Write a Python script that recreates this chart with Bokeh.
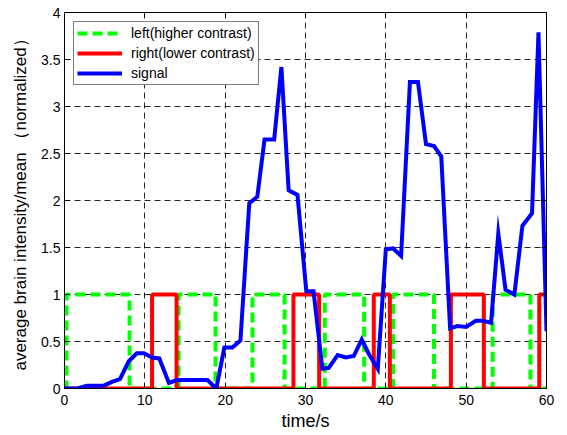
from bokeh.plotting import figure
from bokeh.models import Range1d, FixedTicker, LinearAxis, Legend, LegendItem, CustomJSTickFormatter
from bokeh.embed import file_html
from bokeh.resources import INLINE

# ---- data ----
sig_t = [0, 1.6, 2.8, 4.9, 5.9, 6.9, 8.0, 9.0, 9.9, 10.9, 11.8, 13.0, 14.0, 17.8, 18.9,
         19.9, 20.9, 21.9, 23.0, 24.0, 24.9, 26.1, 27.0, 27.9, 29.0, 30.1, 31.0, 32.1,
         32.9, 34.0, 35.0, 36.0, 37.0, 37.9, 39.0, 40.0, 40.9, 41.9, 43.0, 44.0, 45.0,
         46.0, 46.9, 48.0, 48.9, 50.0, 51.2, 52.1, 53.1, 54.0, 54.9, 56.0, 57.0, 58.2,
         59.0, 60.0]
sig_v = [0, 0, 0.03, 0.03, 0.07, 0.10, 0.29, 0.375, 0.375, 0.33, 0.32, 0.06, 0.09, 0.09, 0,
         0.435, 0.435, 0.51, 1.97, 2.04, 2.65, 2.65, 3.42, 2.11, 2.06, 1.035, 1.035, 0.21,
         0.22, 0.355, 0.33, 0.345, 0.52, 0.365, 0.21, 1.48, 1.49, 1.41, 3.26, 3.26, 2.60,
         2.58, 2.47, 0.64, 0.665, 0.655, 0.72, 0.72, 0.70, 1.65, 1.05, 1.0, 1.73, 1.865,
         3.79, 0.61]

left_t = [0, 0.25, 0.25, 8.1, 8.1, 14.2, 14.2, 18.8, 18.8, 23.4, 23.4, 27.4, 27.4, 32.4,
          32.4, 37.3, 37.3, 40.9, 40.9, 46.0, 46.0, 53.3, 53.3, 58.0, 58.0, 60]
left_v = [0, 0, 1, 1, 0, 0, 1, 1, 0, 0, 1, 1, 0, 0, 1, 1, 0, 0, 1, 1, 0, 0, 1, 1, 0, 0]

right_t = [0, 10.9, 10.9, 13.95, 13.95, 28.5, 28.5, 31.7, 31.7, 38.5, 38.5, 40.5, 40.5,
           48.1, 48.1, 52.2, 52.2, 59.1, 59.1, 60]
right_v = [0, 0, 1, 1, 0, 0, 1, 1, 0, 0, 1, 1, 0, 0, 1, 1, 0, 0, 1, 1]

x_ticks = [0, 10, 20, 30, 40, 50, 60]
y_ticks = [0, 0.5, 1, 1.5, 2, 2.5, 3, 3.5, 4]
y_tick_labels = ["0", "0.5", "1", "1.5", "2", "2.5", "3", "3.5", "4"]

labels = ["left(higher contrast)", "right(lower contrast)", "signal"]
x_title = "time/s"
y_title = "average brain intensity/mean （normalized）"

FONT = "Liberation Sans"

p = figure(width=565, height=433, output_backend="svg", toolbar_location=None,
           x_range=Range1d(0, 60), y_range=Range1d(0, 4),
           min_border_left=64, min_border_right=19, min_border_top=12, min_border_bottom=43)

p.background_fill_color = "white"
p.border_fill_color = "white"
p.outline_line_color = "black"
p.outline_line_width = 1

for ax in (p.xaxis[0], p.yaxis[0]):
    ax.major_tick_in = 5
    ax.major_tick_out = 0
    ax.minor_tick_line_color = None
    ax.axis_line_color = "black"
    ax.major_tick_line_color = "black"
    ax.major_label_text_font = FONT
    ax.major_label_text_font_size = "14px"
    ax.major_label_text_color = "black"
    ax.axis_label_text_font = FONT
    ax.axis_label_text_font_style = "normal"
    ax.axis_label_text_color = "black"

p.xaxis.axis_label_text_font_size = "18px"
p.yaxis.axis_label_text_font_size = "17px"
p.xaxis.ticker = FixedTicker(ticks=x_ticks)
p.yaxis.ticker = FixedTicker(ticks=y_ticks)
p.yaxis.major_label_overrides = {t: s for t, s in zip(y_ticks, y_tick_labels)}
p.xaxis.axis_label = x_title
p.yaxis.axis_label = y_title
p.xaxis.major_label_standoff = 6
p.xaxis.axis_label_standoff = 3
p.yaxis.major_label_standoff = 4
p.yaxis.axis_label_standoff = 8

# mirrored ticks on top and right (box style), no labels
blank = CustomJSTickFormatter(code="return '';")
top = LinearAxis(ticker=FixedTicker(ticks=x_ticks), formatter=blank,
                 major_tick_in=5, major_tick_out=0, minor_tick_line_color=None,
                 major_label_standoff=0)
right = LinearAxis(ticker=FixedTicker(ticks=y_ticks), formatter=blank,
                   major_tick_in=5, major_tick_out=0, minor_tick_line_color=None,
                   major_label_standoff=0)
p.add_layout(top, "above")
p.add_layout(right, "right")

p.xgrid.ticker = FixedTicker(ticks=x_ticks)
p.ygrid.ticker = FixedTicker(ticks=y_ticks)
for g in (p.xgrid[0], p.ygrid[0]):
    g.grid_line_color = "black"
    g.grid_line_dash = "6 4"
    g.grid_line_width = 1
    g.grid_line_alpha = 0.85

r_left = p.line(left_t, left_v, line_color="#00ff00", line_width=4, line_dash="10 5")
r_right = p.line(right_t, right_v, line_color="#ff0000", line_width=4)
r_sig = p.line(sig_t, sig_v, line_color="#0000ff", line_width=4, line_join="miter")

legend = Legend(items=[LegendItem(label=labels[0], renderers=[r_left]),
                       LegendItem(label=labels[1], renderers=[r_right]),
                       LegendItem(label=labels[2], renderers=[r_sig])],
                location="top_left")
legend.margin = 9
legend.padding = 3
legend.spacing = 4
legend.glyph_width = 45
legend.glyph_height = 16
legend.label_height = 16
legend.label_standoff = 9
legend.label_text_font = FONT
legend.label_text_font_size = "14px"
legend.label_text_color = "black"
legend.border_line_color = "black"
legend.border_line_width = 1
legend.background_fill_color = "white"
legend.background_fill_alpha = 1
p.add_layout(legend, "center")

open("out.html", "w").write(file_html(p, INLINE))
